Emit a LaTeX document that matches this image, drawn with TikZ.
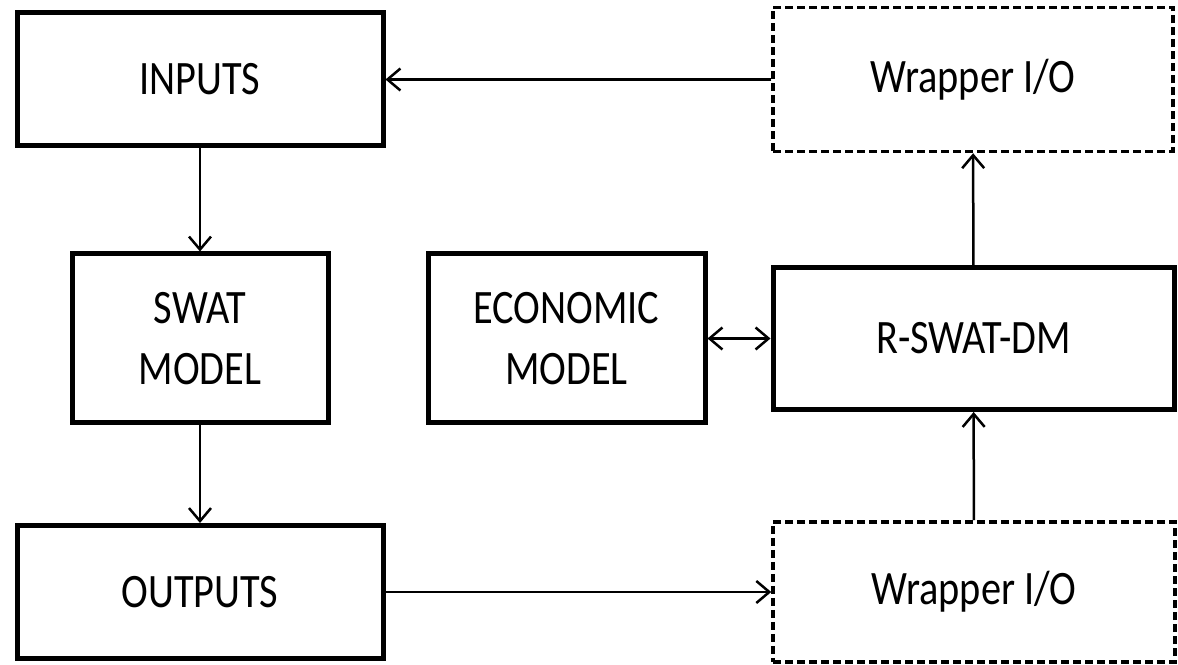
\documentclass[tikz,border=0pt]{standalone}
\usepackage{fontspec}
\setmainfont{Carlito}[FakeStretch=0.84]
\usetikzlibrary{arrows.meta}
\begin{document}
\begin{tikzpicture}[x=1pt,y=1pt,
  box/.style={draw, line width=5pt, align=center, inner sep=0pt,
    font=\fontsize{48}{61}\selectfont},
  dbox/.style={box, line width=3.5pt, dash pattern=on 8pt off 4pt},
  tip/.style={},
  conn/.style={line width=2.5pt, -{Straight Barb[length=13pt,width=22pt,line width=2.5pt]}},
  dconn/.style={line width=2.5pt, {Straight Barb[length=13pt,width=22pt,line width=2.5pt]}-{Straight Barb[length=13pt,width=22pt,line width=2.5pt]}}]
\useasboundingbox (0,0) rectangle (1178,664);
\node[box, minimum width=366pt, minimum height=133pt] (inputs) at (200,584.5) {INPUTS};
\node[dbox, minimum width=400pt, minimum height=144pt] (w1) at (973,584.5) {Wrapper I/O};
\node[box, minimum width=256pt, minimum height=169pt] (swat) at (200,325.5) {SWAT\\MODEL};
\node[box, minimum width=277pt, minimum height=169pt] (econ) at (566.5,325.5) {ECONOMIC\\MODEL};
\node[box, minimum width=401pt, minimum height=142pt] (rswat) at (973.5,325.5) {R-SWAT-DM};
\node[box, minimum width=366pt, minimum height=133pt] (outputs) at (200,72) {OUTPUTS};
\node[dbox, minimum width=402pt, minimum height=140pt] (w2) at (974,72) {Wrapper I/O};
\draw[conn] (inputs) -- (swat);
\draw[conn] (swat) -- (outputs);
\draw[conn] (outputs) -- (w2);
\draw[conn] (w2) -- (rswat);
\draw[conn] (rswat) -- (w1);
\draw[conn] (w1) -- (inputs);
\draw[dconn] (econ) -- (rswat);
\end{tikzpicture}
\end{document}
